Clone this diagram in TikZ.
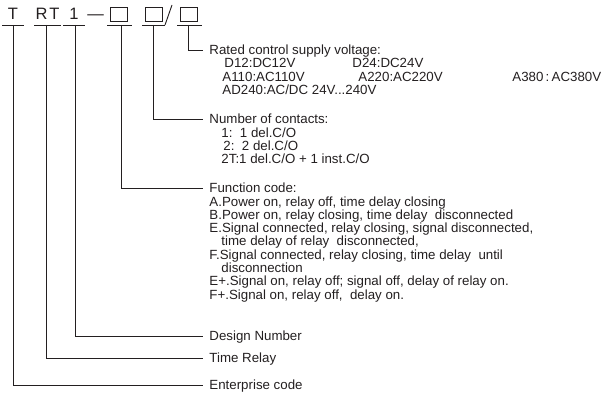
\documentclass[tikz,border=0pt]{standalone}
\usepackage{fontspec}
\setmainfont{Liberation Sans}
\definecolor{ink}{RGB}{35,31,32}
\begin{document}
\begin{tikzpicture}[x=1pt,y=-1pt,line width=0.9pt,color=ink,
  lbl/.style={anchor=base west,inner sep=0pt,text=ink,font=\fontsize{13.3}{14}\selectfont},
  code/.style={anchor=base,inner sep=0pt,text=ink,font=\fontsize{16.5}{17}\selectfont},
  sq/.style={draw=ink,minimum width=17pt,minimum height=14pt,inner sep=0pt,line width=0.9pt},
  uline/.style={draw=ink,line width=0.9pt},
  lead/.style={draw=ink,line width=0.9pt}]
\useasboundingbox (0,0) rectangle (603,396);
% code characters
\node[code] (cT) at (13,19.5) {T};
\node[code] (cRT) at (47.5,19.5) {R\hspace{2pt}T};
\node[code] (c1) at (74,19.5) {1};
\node[code] (cdash) at (95.5,19.5) {—};
\node[sq] (b1) at (119,14) {};
\node[sq] (b2) at (153.5,14) {};
\draw[uline] (165,25) -- (172,5);
\node[sq] (b3) at (188.5,14) {};
% underlines
\coordinate (uT) at (13,25);
\coordinate (uRT) at (46,25);
\coordinate (u1) at (75,25);
\coordinate (ub1) at (121,25);
\coordinate (ub2) at (153,25);
\coordinate (ub3) at (188,25);
\draw[uline] (2,25) -- (24,25);
\draw[uline] (34,25) -- (61,25);
\draw[uline] (63,25) -- (85,25);
\draw[uline] (107,25) -- (132,25);
\draw[uline] (142,25) -- (165,25);
\draw[uline] (177,25) -- (202,25);
% leader ends
\coordinate (eRated) at (203,50);
\coordinate (eNum) at (203,119);
\coordinate (eFun) at (203,188);
\coordinate (eDes) at (203,336);
\coordinate (eTime) at (203,358);
\coordinate (eEnt) at (203,385);
\draw[lead] (ub3) |- (eRated);
\draw[lead] (ub2) |- (eNum);
\draw[lead] (ub1) |- (eFun);
\draw[lead] (u1) |- (eDes);
\draw[lead] (uRT) |- (eTime);
\draw[lead] (uT) |- (eEnt);
% texts
\node[lbl] (tRated) at (209,54.7) {Rated control supply voltage:};
\node[lbl] (tD12) at (224,68) {D12:DC12V};
\node[lbl] (tD24) at (352,68) {D24:DC24V};
\node[lbl] (tA110) at (222,81.3) {A110:AC110V};
\node[lbl] (tA220) at (358,81.3) {A220:AC220V};
\node[lbl] (tA380) at (512,81.3) {A380\,:\,AC380V};
\node[lbl] (tAD240) at (222,94.6) {AD240:AC/DC 24V...240V};
\node[lbl] (tNum) at (209,123.7) {Number of contacts:};
\node[lbl] (tN1) at (221,137) {1:\ \ 1 del.C/O};
\node[lbl] (tN2) at (223,150.3) {2:\ \ 2 del.C/O};
\node[lbl] (tN3) at (221,163.6) {2T:1 del.C/O + 1 inst.C/O};
\node[lbl] (tFun) at (209,192.7) {Function code:};
\node[lbl] (tFA) at (209,206) {A.Power on, relay off, time delay closing};
\node[lbl] (tFB) at (209,219.3) {B.Power on, relay closing, time delay\ \ disconnected};
\node[lbl] (tFE) at (209,232.6) {E.Signal connected, relay closing, signal disconnected,};
\node[lbl] (tFE2) at (221,245.9) {time delay of relay\ \ disconnected,};
\node[lbl] (tFF) at (209,259.2) {F.Signal connected, relay closing, time delay\ \ until};
\node[lbl] (tFF2) at (221,272.5) {disconnection};
\node[lbl] (tFEp) at (209,285.8) {E+.Signal on, relay off; signal off, delay of relay on.};
\node[lbl] (tFFp) at (209,299.1) {F+.Signal on, relay off,\ \ delay on.};
\node[lbl] (tDes) at (209,340.7) {Design Number};
\node[lbl] (tTime) at (209,362.7) {Time Relay};
\node[lbl] (tEnt) at (209,389.7) {Enterprise code};
\end{tikzpicture}
\end{document}
